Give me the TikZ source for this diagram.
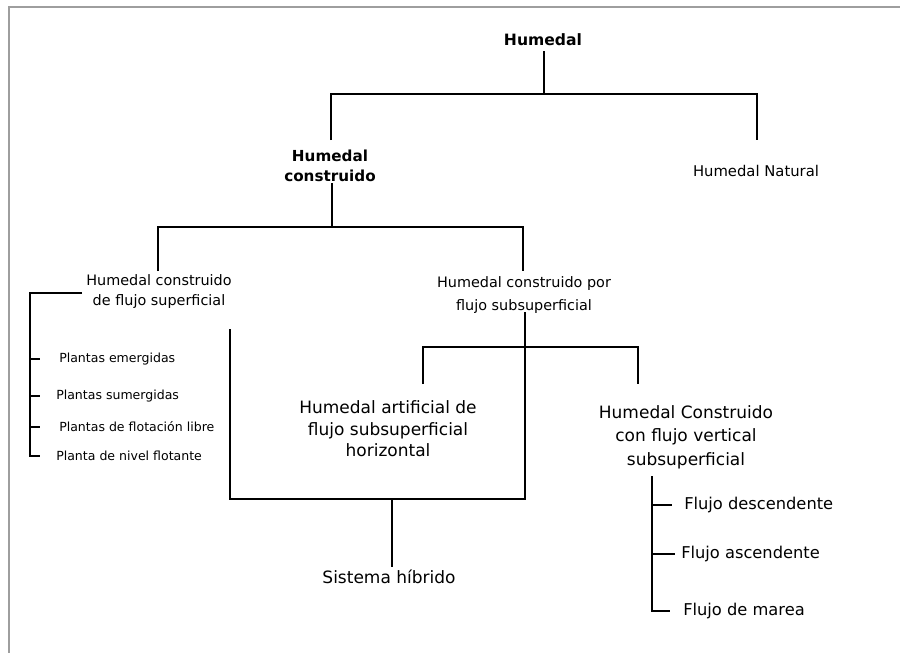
\documentclass[tikz,border=0pt]{standalone}
\usepackage{fontspec}
\setmainfont{DejaVu Sans}
\newcommand{\fsz}[2]{\fontsize{#1}{#2}\selectfont}
\begin{document}
\begin{tikzpicture}[x=0.75pt,y=-0.75pt,
  conn/.style={line width=1.5pt,line join=miter},
  thinconn/.style={line width=0.9pt},
  frame/.style={draw=black!38,line width=1.1pt},
  txt/.style={inner sep=0pt,align=center,text=black},
  boldtxt/.style={txt,font=\bfseries\fsz{11.4}{15}},
  midtxt/.style={txt,font=\fsz{10.8}{15}},
  smalltxt/.style={txt,anchor=west,font=\fsz{9.4}{11}},
  bigtxt/.style={txt,font=\fsz{12.75}{16.2}},
  flowtxt/.style={txt,anchor=west,font=\fsz{12.2}{14}}]
\useasboundingbox (0,0) rectangle (900,653);
\fill[white] (0,0) rectangle (900,653);
% page frame (top and left edges)
\draw[frame] (9,653) -- (9,7) -- (900,7);

% ---- text nodes ----
\node[boldtxt,font=\bfseries\fsz{11.7}{15}] (root) at (543,40) {Humedal};
\node[boldtxt] (hc) at (330,166) {Humedal\\construido};
\node[midtxt,font=\fsz{11.1}{15}] (hn) at (756,171) {Humedal Natural};
\node[midtxt] (hcs) at (159,292) {Humedal construido\\de flujo superficial};
\node[midtxt,font=\fsz{10.8}{17}] (hcss) at (524,295) {Humedal construido por\\flujo subsuperficial};
\node[smalltxt] (p1) at (59,359) {Plantas emergidas};
\node[smalltxt] (p2) at (56,396) {Plantas sumergidas};
\node[smalltxt] (p3) at (59,427) {Plantas de flotación libre};
\node[smalltxt] (p4) at (56,456) {Planta de nivel flotante};
\node[bigtxt] (hafh) at (388,429) {Humedal artificial de\\flujo subsuperficial\\horizontal};
\node[bigtxt,font=\fsz{12.75}{17.6}] (hcfv) at (686,437) {Humedal Construido\\con flujo vertical\\subsuperficial};
\node[flowtxt] (f1) at (684,505) {Flujo descendente};
\node[flowtxt] (f2) at (681,554) {Flujo ascendente};
\node[flowtxt] (f3) at (683,611) {Flujo de marea};
\node[bigtxt] (sh) at (389,577) {Sistema híbrido};

% ---- junction points ----
\coordinate (root-b) at (544,51);
\coordinate (s1) at (544,94);
\coordinate (hc-t) at (331,140);
\coordinate (hn-t) at (757,140);
\coordinate (hc-b) at (332,183);
\coordinate (s2) at (332,227);
\coordinate (hcs-t) at (158,271);
\coordinate (hcss-t) at (523,271);
\coordinate (hcss-b) at (525,312);
\coordinate (s3) at (525,347);
\coordinate (hafh-t) at (423,384);
\coordinate (hcfv-t) at (638,384);
\coordinate (pl-top) at (82,293);
\coordinate (pl-bar) at (30,293);
\coordinate (hcs-b) at (230,329);
\coordinate (hy-l) at (230,499);
\coordinate (hy-r) at (525,499);
\coordinate (hy-m) at (392,499);
\coordinate (sh-t) at (392,567);
\coordinate (fl-top) at (652,476);
\coordinate (fl-mid) at (652,537);

% ---- connectors ----
\draw[conn] (root-b) -- (s1);
\draw[conn] (hc-t) |- (s1) -| (hn-t);
\draw[conn] (hc-b) -- (s2);
\draw[conn] (hcs-t) |- (s2) -| (hcss-t);
\draw[conn] (hcss-b) -- (s3);
\draw[conn] (hafh-t) |- (s3) -| (hcfv-t);

% surface-flow plant list
\draw[conn] (pl-top) -- (pl-bar) |- ([xshift=7.5pt]pl-bar |- p4.west);
\draw[conn] (pl-bar |- p1.west) -- ++(10,0);
\draw[conn] (pl-bar |- p2.west) -- ++(10,0);
\draw[conn] (pl-bar |- p3.west) -- ++(10,0);

% hybrid system
\draw[conn] (hcs-b) -- (hy-l) -- (hy-r) -- (s3);
\draw[conn] (hy-m) -- (sh-t);

% vertical-flow variants
\draw[conn] (fl-top) -- (fl-mid);
\draw[thinconn] (fl-mid) |- ([xshift=13.5pt]fl-mid |- f3.west);
\draw[conn] (fl-top |- f1.west) -- ++(20,0);
\draw[conn] (fl-top |- f2.west) -- ++(23,0);
\end{tikzpicture}
\end{document}
